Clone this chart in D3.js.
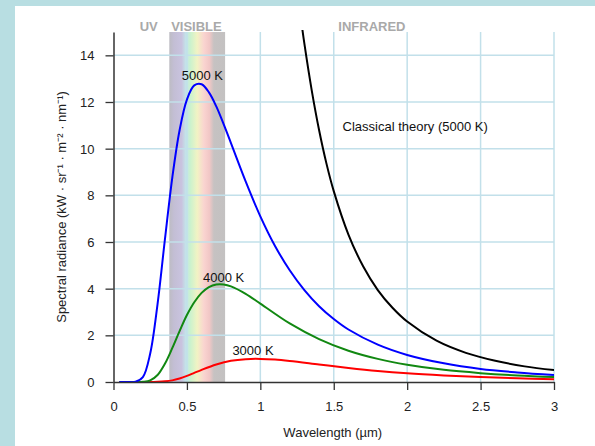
<!DOCTYPE html>
<html>
<head>
<meta charset="utf-8">
<script src="https://cdn.jsdelivr.net/npm/d3@7"></script>
<style>
  html, body { margin: 0; padding: 0; background: #b8dee2; }
  svg { display: block; font-family: "Liberation Sans", Arial, sans-serif; }
</style>
</head>
<body>
<div id="chart"></div>
<script>
// wavelength (µm) / spectral radiance (kW · sr⁻¹ · m⁻² · nm⁻¹)
const wl5000 = [0.04, 0.1, 0.15, 0.2, 0.25, 0.3, 0.35, 0.4, 0.45, 0.5, 0.55, 0.6, 0.65, 0.7, 0.75, 0.8, 0.9, 1.0, 1.1, 1.2, 1.3, 1.4, 1.5, 1.6, 1.8, 2.0, 2.25, 2.5, 2.75, 3.0];
const rad5000 = [0, 0, 0.01, 0.21, 1.22, 3.34, 6.1, 8.74, 10.79, 12.1, 12.71, 12.76, 12.41, 11.81, 11.05, 10.24, 8.6, 7.1, 5.83, 4.79, 3.94, 3.25, 2.7, 2.25, 1.6, 1.16, 0.8, 0.56, 0.41, 0.3];

const wl4000 = [0.04, 0.15, 0.2, 0.25, 0.3, 0.35, 0.4, 0.45, 0.5, 0.55, 0.6, 0.65, 0.7, 0.75, 0.8, 0.9, 1.0, 1.2, 1.4, 1.6, 1.8, 2.0, 2.25, 2.5, 2.75, 3.0];
const rad4000 = [0, 0, 0.01, 0.07, 0.3, 0.78, 1.45, 2.18, 2.87, 3.42, 3.82, 4.07, 4.18, 4.18, 4.1, 3.78, 3.36, 2.51, 1.84, 1.34, 0.99, 0.74, 0.52, 0.38, 0.28, 0.21];

const wl3000 = [0.04, 0.25, 0.3, 0.35, 0.4, 0.45, 0.5, 0.55, 0.6, 0.7, 0.8, 0.9, 1.0, 1.1, 1.2, 1.4, 1.6, 1.8, 2.0, 2.25, 2.5, 2.75, 3.0];
const rad3000 = [0, 0, 0.01, 0.03, 0.07, 0.15, 0.26, 0.39, 0.52, 0.75, 0.91, 0.98, 0.99, 0.96, 0.9, 0.75, 0.6, 0.47, 0.37, 0.28, 0.21, 0.16, 0.12];

const wlClassical = [1.28, 1.3, 1.35, 1.4, 1.45, 1.5, 1.6, 1.7, 1.8, 1.9, 2.0, 2.2, 2.4, 2.6, 2.8, 3.0];
const radClassical = [15.4, 14.5, 12.5, 10.8, 9.37, 8.18, 6.32, 4.96, 3.94, 3.18, 2.59, 1.77, 1.25, 0.91, 0.67, 0.51];

const xTicks = [0, 0.5, 1, 1.5, 2, 2.5, 3];
const xTickLabels = ['0', '0.5', '1', '1.5', '2', '2.5', '3'];
const yTicks = [0, 2, 4, 6, 8, 10, 12, 14];
const visibleBand = [0.38, 0.76];

const width = 595;
const height = 446;
const margin = {top: 32, bottom: 64, left: 113.5, right: 41};
const plotW = width - margin.left - margin.right;
const plotH = height - margin.top - margin.bottom;

const x = d3.scaleLinear().domain([0, 3]).range([0, plotW]);
const y = d3.scaleLinear().domain([0, 15]).range([plotH, 0]);

const svg = d3.select('#chart')
    .append('svg')
    .attr('width', width)
    .attr('height', height);

svg.append('rect')
    .attr('x', 15).attr('y', 6)
    .attr('width', width - 15).attr('height', height - 6)
    .attr('fill', '#fff');

const defs = svg.append('defs');
const grad = defs.append('linearGradient').attr('id', 'spectrum');
[
    [0, '#bdbcc3'], [0.08, '#c3bed4'], [0.22, '#c9c3df'], [0.3, '#c3e6ea'],
    [0.38, '#cbf2cd'], [0.5, '#f1f3c4'], [0.62, '#fad4d0'], [0.72, '#f1c7c6'],
    [0.8, '#c6c2c2'], [1, '#c3c1c1']
].forEach(([o, c]) => grad.append('stop').attr('offset', o).attr('stop-color', c));

defs.append('clipPath').attr('id', 'plot-clip')
    .append('rect').attr('y', -2).attr('width', plotW).attr('height', plotH + 2);

const g = svg.append('g')
    .attr('transform', `translate(${margin.left},${margin.top})`);

g.append('rect')
    .attr('x', x(visibleBand[0]))
    .attr('width', x(visibleBand[1]) - x(visibleBand[0]))
    .attr('y', 0)
    .attr('height', plotH)
    .attr('fill', 'url(#spectrum)');

// grid
g.append('g').selectAll('line')
    .data(xTicks.slice(1))
    .join('line')
    .attr('x1', d => x(d)).attr('x2', d => x(d))
    .attr('y1', 0).attr('y2', plotH)
    .attr('stroke', '#c2e0ea').attr('stroke-width', 1.5);

g.append('g').selectAll('line')
    .data(yTicks.slice(1))
    .join('line')
    .attr('x1', 0).attr('x2', x(3))
    .attr('y1', d => y(d)).attr('y2', d => y(d))
    .attr('stroke', '#c2e0ea').attr('stroke-width', 1.5);

// region labels
const regionLabels = [['UV', 0.24], ['VISIBLE', 0.565], ['INFRARED', 1.76]];
g.append('g').selectAll('text')
    .data(regionLabels)
    .join('text')
    .attr('x', d => x(d[1]))
    .attr('y', -1)
    .attr('text-anchor', 'middle')
    .attr('font-size', 13)
    .attr('font-weight', 'bold')
    .attr('fill', '#a9a9a9')
    .text(d => d[0]);

// curves
const line = d3.line()
    .x(d => x(d[0]))
    .y(d => y(d[1]))
    .curve(d3.curveCatmullRom.alpha(0.5));

const series = [
    [wl3000, rad3000, '#ff0000'],
    [wl4000, rad4000, '#118811'],
    [wl5000, rad5000, '#0000ff'],
    [wlClassical, radClassical, '#000000']
];

const curves = g.append('g').attr('clip-path', 'url(#plot-clip)');
series.forEach(([xs, ys, color]) => {
    curves.append('path')
        .datum(xs.map((v, i) => [v, ys[i]]))
        .attr('fill', 'none')
        .attr('stroke', color)
        .attr('stroke-width', 2)
        .attr('stroke-linejoin', 'round')
        .attr('d', line);
});

// axes
const xAxis = d3.axisBottom(x)
    .tickValues(xTicks)
    .tickFormat((d, i) => xTickLabels[i])
    .tickSize(8)
    .tickSizeOuter(0)
    .tickPadding(12);

const yAxis = d3.axisLeft(y)
    .tickValues(yTicks)
    .tickSize(8)
    .tickSizeOuter(0)
    .tickPadding(11);

const gx = g.append('g')
    .attr('transform', `translate(0,${plotH})`)
    .call(xAxis);

const gy = g.append('g').call(yAxis);

[gx, gy].forEach(a => {
    a.select('.domain').attr('stroke', '#333').attr('stroke-width', 1.5);
    a.selectAll('.tick line').attr('stroke', '#333').attr('stroke-width', 1.3);
    a.selectAll('.tick text')
        .attr('fill', '#222')
        .attr('font-size', 13)
        .attr('font-family', '"Liberation Sans", Arial, sans-serif');
});
gy.selectAll('.tick text').attr('dy', '0.35em');

// curve labels
const curveLabels = [
    ['5000 K', 0.605, 12.95, 'middle'],
    ['4000 K', 0.75, 4.3, 'middle'],
    ['3000 K', 0.95, 1.15, 'middle'],
    ['Classical theory (5000 K)', 1.56, 10.75, 'start']
];
g.append('g').selectAll('text')
    .data(curveLabels)
    .join('text')
    .attr('x', d => x(d[1]))
    .attr('y', d => y(d[2]))
    .attr('text-anchor', d => d[3])
    .attr('font-size', 13)
    .attr('fill', '#111')
    .text(d => d[0]);

// axis titles
svg.append('text')
    .attr('x', margin.left + plotW / 2 - 1)
    .attr('y', 437)
    .attr('text-anchor', 'middle')
    .attr('font-size', 13)
    .attr('fill', '#222')
    .text('Wavelength (µm)');

svg.append('text')
    .attr('transform', `translate(66,${margin.top + plotH / 2}) rotate(-90)`)
    .attr('text-anchor', 'middle')
    .attr('font-size', 13)
    .attr('fill', '#222')
    .text('Spectral radiance (kW · sr⁻¹ · m⁻² · nm⁻¹)');
</script>
</body>
</html>
